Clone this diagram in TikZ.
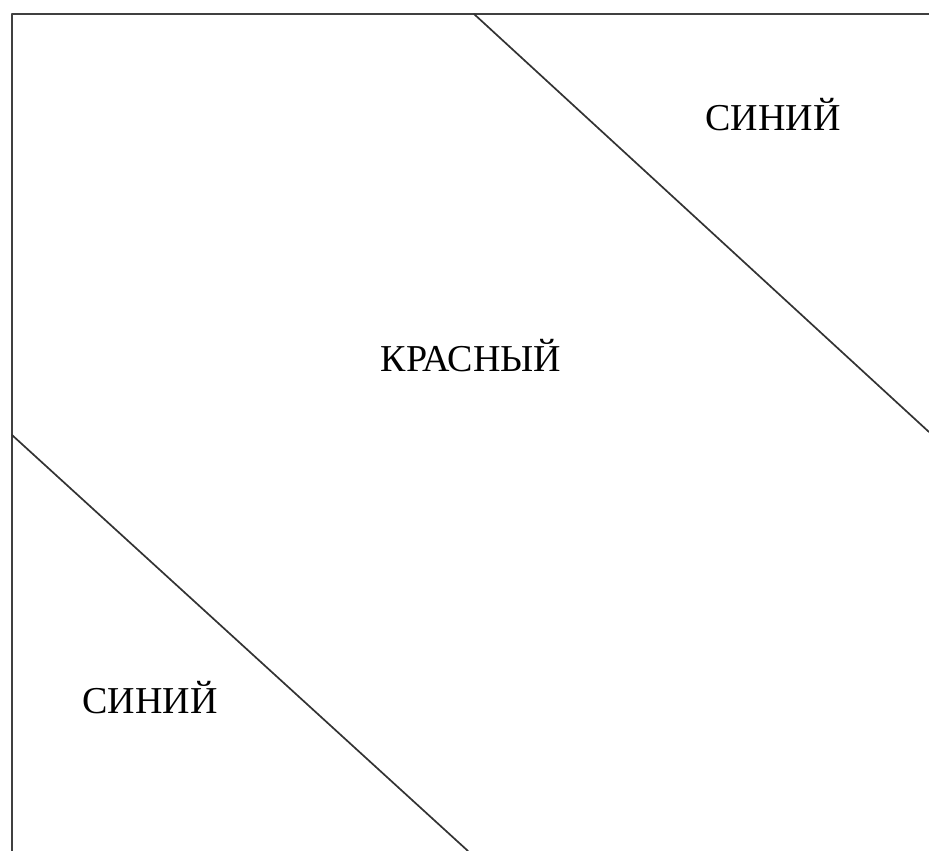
\documentclass[tikz,border=0pt]{standalone}
\usepackage{fontspec}
\setmainfont{Liberation Serif}

\begin{document}
\begin{tikzpicture}[x=1pt,y=-1pt,line cap=round,line join=round]
  \useasboundingbox (0,0) rectangle (929,851);
  \def\L{12}
  \def\T{14}
  \begin{scope}
    \clip (0,0) rectangle (929,851);
    \draw[line width=2pt,black!75] (\L,851) -- (\L,\T) -- (929,\T);
    \draw[line width=1.7pt,black!80] (474,\T) -- (929,432);
    \draw[line width=1.7pt,black!80] (\L,435) -- (468,851);
  \end{scope}
  \node[font=\fontsize{38}{42}\selectfont] (red) at (471,356) {КРАСНЫЙ};
  \node[font=\fontsize{38}{42}\selectfont] (blueTop) at (773,115) {СИНИЙ};
  \node[font=\fontsize{38}{42}\selectfont] (blueBot) at (150,698) {СИНИЙ};
\end{tikzpicture}
\end{document}
